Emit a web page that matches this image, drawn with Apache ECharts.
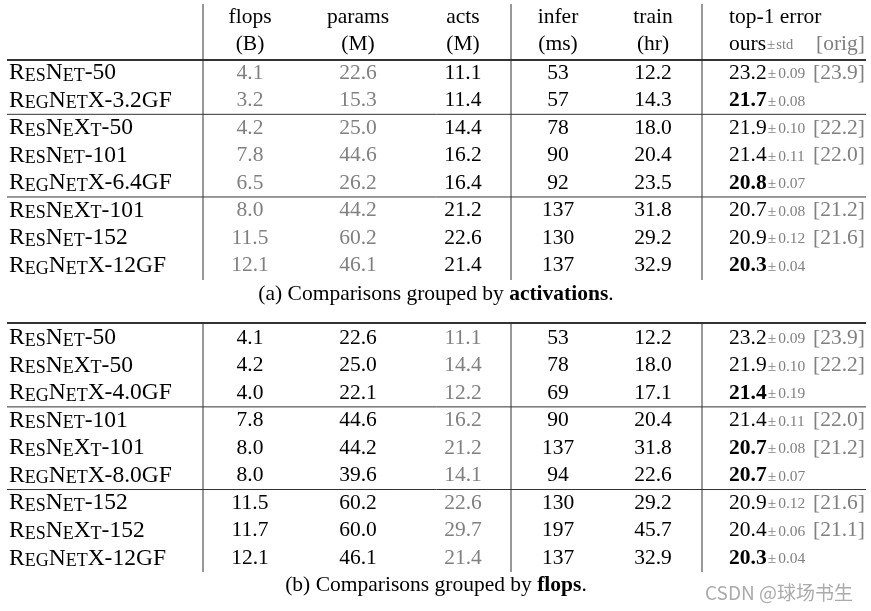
<!DOCTYPE html>
<html><head><meta charset="utf-8">
<script src="https://cdn.jsdelivr.net/npm/echarts@6/dist/echarts.min.js"></script>
<style>html,body{margin:0;padding:0;background:#fff}#c{width:871px;height:611px}</style>
</head><body><div id="c"></div>
<script>
// ---------- DATA: table (a) grouped by activations ----------
const namesA  = ['ResNet-50','RegNetX-3.2GF','ResNeXt-50','ResNet-101','RegNetX-6.4GF','ResNeXt-101','ResNet-152','RegNetX-12GF'];
const flopsA  = [4.1, 3.2, 4.2, 7.8, 6.5, 8.0, 11.5, 12.1];
const paramsA = [22.6, 15.3, 25.0, 44.6, 26.2, 44.2, 60.2, 46.1];
const actsA   = [11.1, 11.4, 14.4, 16.2, 16.4, 21.2, 22.6, 21.4];
const inferA  = [53, 57, 78, 90, 92, 137, 130, 137];
const trainA  = [12.2, 14.3, 18.0, 20.4, 23.5, 31.8, 29.2, 32.9];
const errA    = [23.2, 21.7, 21.9, 21.4, 20.8, 20.7, 20.9, 20.3];
const stdA    = [0.09, 0.08, 0.10, 0.11, 0.07, 0.08, 0.12, 0.04];
const origA   = [23.9, null, 22.2, 22.0, null, 21.2, 21.6, null];
const boldA   = [false, true, false, false, true, false, false, true];
const groupsA = [2, 3, 3];
const grayColsA = ['flops', 'params'];

// ---------- DATA: table (b) grouped by flops ----------
const namesB  = ['ResNet-50','ResNeXt-50','RegNetX-4.0GF','ResNet-101','ResNeXt-101','RegNetX-8.0GF','ResNet-152','ResNeXt-152','RegNetX-12GF'];
const flopsB  = [4.1, 4.2, 4.0, 7.8, 8.0, 8.0, 11.5, 11.7, 12.1];
const paramsB = [22.6, 25.0, 22.1, 44.6, 44.2, 39.6, 60.2, 60.0, 46.1];
const actsB   = [11.1, 14.4, 12.2, 16.2, 21.2, 14.1, 22.6, 29.7, 21.4];
const inferB  = [53, 78, 69, 90, 137, 94, 130, 197, 137];
const trainB  = [12.2, 18.0, 17.1, 20.4, 31.8, 22.6, 29.2, 45.7, 32.9];
const errB    = [23.2, 21.9, 21.4, 21.4, 20.7, 20.7, 20.9, 20.4, 20.3];
const stdB    = [0.09, 0.10, 0.19, 0.11, 0.08, 0.07, 0.12, 0.06, 0.04];
const origB   = [23.9, 22.2, null, 22.0, 21.2, null, 21.6, 21.1, null];
const boldB   = [false, false, true, false, true, true, false, false, true];
const groupsB = [3, 3, 3];
const grayColsB = ['acts'];

// ---------- header / caption texts ----------
const colKeys   = ['flops', 'params', 'acts', 'infer', 'train'];
const headTop   = ['flops', 'params', 'acts', 'infer', 'train'];
const headUnit  = ['(B)', '(M)', '(M)', '(ms)', '(hr)'];
const colDigits = [1, 1, 1, 0, 1];
const errHead1  = 'top-1 error';
const errHead2  = 'ours';
const stdHead   = 'std';
const origHead  = '[orig]';
const captionA  = ['(a) Comparisons grouped by ', 'activations', '.'];
const captionB  = ['(b) Comparisons grouped by ', 'flops', '.'];
const watermark = 'CSDN @球场书生';

// ---------- LAYOUT (positions / styles only) ----------
const W = 871, H = 611;
const L = {
  lineL: 7, lineR: 866, nameX: 9, colX: [250, 358, 463, 558, 653], errX: 729, origR: 865,
  vlines: [203, 511, 702], rowH: 27.55, capX: 436,
  A: { head1: 17, head2: 44, hline: 60, first: 73, vTop: 4, vBot: 280, cap: 294 },
  B: { top: 323, first: 338, vBot: 572, cap: 585 },
  wmX: 705, wmY: 593
};
const SERIF = 'Liberation Serif';
const GRAY = '#808080';
const BIG = 21.5, NB = 23.5, SC = 18, PM = 15.5, PMH = 15;
const rich = {
  b:  { fontFamily: SERIF, fontSize: BIG, fill: '#000', verticalAlign: 'bottom' },
  nb: { fontFamily: SERIF, fontSize: NB, fill: '#000', verticalAlign: 'bottom' },
  ns: { fontFamily: SERIF, fontSize: SC, fill: '#000', verticalAlign: 'bottom' },
  g:  { fontFamily: SERIF, fontSize: BIG, fill: GRAY, verticalAlign: 'bottom' },
  bb: { fontFamily: SERIF, fontSize: BIG, fill: '#000', fontWeight: 'bold', verticalAlign: 'bottom' },
  pm: { fontFamily: SERIF, fontSize: PM, fill: GRAY, verticalAlign: 'bottom', padding: [0, 2, 2, 1] },
  pn: { fontFamily: SERIF, fontSize: PM, fill: GRAY, verticalAlign: 'bottom', padding: [0, 0, 2, 0] },
  ph: { fontFamily: SERIF, fontSize: PMH, fill: GRAY, verticalAlign: 'bottom', padding: [0, 1, 2, 1] },
  phs:{ fontFamily: SERIF, fontSize: PMH - 0.5, fill: GRAY, verticalAlign: 'bottom', padding: [0, 0, 2, 0] }
};

function smallCaps(name) {
  let out = '', buf = '', mode = null;
  for (const ch of name) {
    const m = /[a-z]/.test(ch) ? 'ns' : 'nb';
    if (m !== mode) { if (buf) out += '{' + mode + '|' + buf + '}'; buf = ''; mode = m; }
    buf += (m === 'ns' ? ch.toUpperCase() : ch);
  }
  if (buf) out += '{' + mode + '|' + buf + '}';
  return out;
}

// ---------- build cells ----------
const cells = [];   // {x, y, text, align}
const lines = [];   // [x1, y1, x2, y2, width]
function addTable(t, d) {
  const rowY = i => t.first + i * L.rowH;
  d.names.forEach((nm, i) => {
    const y = rowY(i);
    cells.push({ x: L.nameX, y, text: smallCaps(nm), align: 'left' });
    colKeys.forEach((k, c) => {
      const v = d.cols[k][i];
      const st = d.gray.indexOf(k) >= 0 ? 'g' : 'b';
      cells.push({ x: L.colX[c], y, text: '{' + st + '|' + v.toFixed(colDigits[c]) + '}', align: 'center' });
    });
    cells.push({ x: L.errX, y, align: 'left',
      text: '{' + (d.bold[i] ? 'bb' : 'b') + '|' + d.err[i].toFixed(1) + '}{pm|±}{pn|' + d.std[i].toFixed(2) + '}' });
    if (d.orig[i] != null) cells.push({ x: L.origR, y, align: 'right', text: '{g|[' + d.orig[i].toFixed(1) + ']}' });
  });
  let acc = 0;
  d.groups.slice(0, -1).forEach(g => { acc += g; const y = rowY(acc - 1) + L.rowH / 2; lines.push([L.lineL, y, L.lineR, y, 1]); });
  L.vlines.forEach(x => lines.push([x, t.vTop, x, t.vBot, 1]));
  cells.push({ x: L.capX, y: t.cap, align: 'center', text: '{b|' + d.caption[0] + '}{bb|' + d.caption[1] + '}{b|' + d.caption[2] + '}' });
}

headTop.forEach((h, c) => cells.push({ x: L.colX[c], y: L.A.head1, align: 'center', text: '{b|' + h + '}' }));
headUnit.forEach((h, c) => cells.push({ x: L.colX[c], y: L.A.head2, align: 'center', text: '{b|' + h + '}' }));
cells.push({ x: L.errX, y: L.A.head1, align: 'left', text: '{b|' + errHead1 + '}' });
cells.push({ x: L.errX, y: L.A.head2, align: 'left', text: '{b|' + errHead2 + '}{ph|±}{phs|' + stdHead + '}' });
cells.push({ x: L.origR, y: L.A.head2, align: 'right', text: '{g|' + origHead + '}' });
lines.push([L.lineL, L.A.hline, L.lineR, L.A.hline, 2]);
lines.push([L.lineL, L.B.top, L.lineR, L.B.top, 2]);

addTable({ first: L.A.first, vTop: L.A.vTop, vBot: L.A.vBot, cap: L.A.cap },
  { names: namesA, cols: { flops: flopsA, params: paramsA, acts: actsA, infer: inferA, train: trainA },
    err: errA, std: stdA, orig: origA, bold: boldA, groups: groupsA, gray: grayColsA, caption: captionA });
addTable({ first: L.B.first, vTop: L.B.top, vBot: L.B.vBot, cap: L.B.cap },
  { names: namesB, cols: { flops: flopsB, params: paramsB, acts: actsB, infer: inferB, train: trainB },
    err: errB, std: stdB, orig: origB, bold: boldB, groups: groupsB, gray: grayColsB, caption: captionB });

const chart = echarts.init(document.getElementById('c'), null, { renderer: 'canvas' });
chart.setOption({
  backgroundColor: '#fff',
  animation: false,
  grid: { left: 0, right: 0, top: 0, bottom: 0 },
  xAxis: { type: 'value', min: 0, max: W, show: false },
  yAxis: { type: 'value', min: 0, max: H, inverse: true, show: false },
  series: [
    {
      type: 'custom', clip: false, silent: true,
      data: lines,
      encode: { x: [0, 2], y: [1, 3] },
      renderItem: (p, api) => {
        const a = api.coord([api.value(0), api.value(1)]);
        const b = api.coord([api.value(2), api.value(3)]);
        return { type: 'line', shape: { x1: a[0], y1: a[1], x2: b[0], y2: b[1] },
          style: { stroke: '#333', lineWidth: api.value(4) } };
      }
    },
    {
      type: 'custom', clip: false, silent: true,
      data: cells.map((c, i) => [c.x, c.y, i]),
      encode: { x: 0, y: 1 },
      renderItem: (p, api) => {
        const c = cells[api.value(2)];
        const pt = api.coord([api.value(0), api.value(1)]);
        return { type: 'text', x: pt[0], y: pt[1],
          style: { text: c.text, rich: rich, align: c.align, verticalAlign: 'middle',
            fontFamily: SERIF, fontSize: BIG, fill: '#000' } };
      }
    },
    {
      type: 'custom', clip: false, silent: true,
      data: [[L.wmX, L.wmY]],
      renderItem: (p, api) => {
        const pt = api.coord([api.value(0), api.value(1)]);
        return { type: 'text', x: pt[0], y: pt[1],
          style: { text: watermark, align: 'left', verticalAlign: 'middle',
            fontFamily: '"Noto Sans CJK SC", "Noto Sans", sans-serif', fontSize: 19, fill: '#ababab' } };
      }
    }
  ]
});
</script></body></html>
